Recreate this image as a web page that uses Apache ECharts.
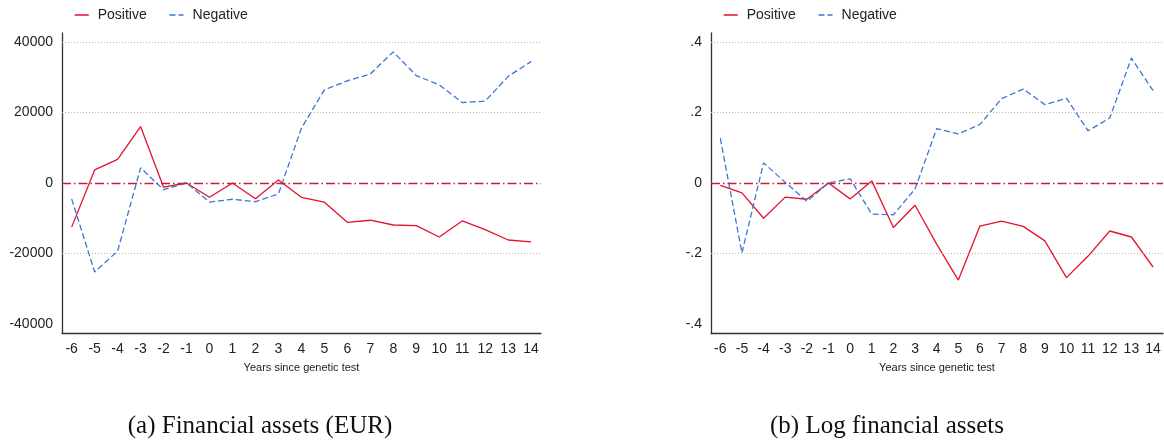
<!DOCTYPE html>
<html>
<head>
<meta charset="utf-8">
<script src="https://cdn.jsdelivr.net/npm/echarts@6/dist/echarts.min.js"></script>
<style>
html,body{margin:0;padding:0;background:#fff;}
#c{width:1164px;height:441px;}
</style>
</head>
<body>
<div id="c"></div>
<script>
// ---- data ----
var years = [-6,-5,-4,-3,-2,-1,0,1,2,3,4,5,6,7,8,9,10,11,12,13,14];
var finPos = [-12500,3700,6700,16000,-1200,0,-4050,0,-4450,850,-4050,-5450,-11150,-10550,-11900,-12100,-15300,-10750,-13200,-16150,-16700];
var finNeg = [-4500,-25200,-19300,4300,-1900,0,-5400,-4600,-5300,-3100,15500,26400,28950,30900,37150,30450,27800,22800,23200,30200,34400];
var logPos = [-0.007,-0.028,-0.100,-0.040,-0.046,0,-0.045,0.006,-0.126,-0.063,-0.173,-0.275,-0.122,-0.108,-0.123,-0.164,-0.268,-0.207,-0.136,-0.153,-0.238];
var logNeg = [0.127,-0.198,0.057,0.002,-0.052,0,0.012,-0.088,-0.090,-0.017,0.154,0.139,0.166,0.239,0.266,0.222,0.240,0.148,0.184,0.354,0.262];
var finTicks = [-40000,-20000,0,20000,40000];
var finTickLabels = ['-40000','-20000','0','20000','40000'];
var logTicks = [-0.4,-0.2,0,0.2,0.4];
var logTickLabels = ['-.4','-.2','0','.2','.4'];
var finGrid = [-20000,20000,40000];
var logGrid = [-0.2,0.2,0.4];
var seriesNames = ['Positive','Negative'];
var xName = 'Years since genetic test';
var captions = ['(a) Financial assets (EUR)','(b) Log financial assets'];

// ---- style ----
var RED = '#e3122d', BLUE = '#3a76d4', ZERO = '#c0203a', AXIS = '#333';
var FONT = 'Liberation Sans';

function pairs(xs, ys){ return xs.map(function(x,i){ return [x, ys[i]]; }); }
function labelFor(ticks, labels){
  return function(v){
    for (var i=0;i<ticks.length;i++){ if (Math.abs(ticks[i]-v) < 1e-6) return labels[i]; }
    return '';
  };
}

var chart = echarts.init(document.getElementById('c'), null, {renderer:'canvas'});

function xAxisCfg(gi, mn, mx){
  return {
    type:'value', gridIndex:gi, min:mn, max:mx,
    name:xName, nameLocation:'middle', nameGap:29,
    nameTextStyle:{fontFamily:FONT, fontSize:11, color:'#222'},
    axisLine:{show:true, onZero:false, lineStyle:{color:AXIS, width:1.3}},
    axisTick:{show:false},
    splitLine:{show:false},
    axisLabel:{customValues:years, fontFamily:FONT, fontSize:14, color:'#222', margin:9,
      formatter:function(v){ return String(Math.round(v)); }}
  };
}
function yAxisCfg(gi, mn, mx, ticks, labels){
  return {
    type:'value', gridIndex:gi, min:mn, max:mx,
    axisLine:{show:true, onZero:false, lineStyle:{color:AXIS, width:1.3}},
    axisTick:{show:false},
    splitLine:{show:false},
    axisLabel:{customValues:ticks, fontFamily:FONT, fontSize:14, color:'#222', margin:9,
      formatter:labelFor(ticks, labels)}
  };
}
function refSeries(gi, gridVals){
  var d = gridVals.map(function(v){ return {yAxis:v, lineStyle:{color:'#b5b5b5', width:1, type:[1,2]}}; });
  d.push({yAxis:0, lineStyle:{color:ZERO, width:1.3, type:[9,3,1.5,3]}});
  return {
    type:'line', xAxisIndex:gi, yAxisIndex:gi, data:[], silent:true, z:1,
    markLine:{silent:true, symbol:['none','none'], label:{show:false}, animation:false, data:d}
  };
}
function lineSeries(gi, name, data, color, dashed){
  return {
    type:'line', name:name, xAxisIndex:gi, yAxisIndex:gi, data:data,
    showSymbol:false, symbol:'none', z:3, animation:false,
    lineStyle:{color:color, width:1.3, type: dashed ? [6,3] : 'solid'},
    itemStyle:{color:color}
  };
}
function legendCfg(left){
  return {
    show:true, left:left, top:8, padding:0, itemWidth:14, itemHeight:14, itemGap:22,
    textStyle:{fontFamily:FONT, fontSize:14, color:'#222', padding:[0,0,0,4]},
    itemStyle:{opacity:0, borderWidth:0},
    lineStyle:{width:1.5},
    data:seriesNames.slice(),
    selectedMode:false
  };
}

var option = {
  backgroundColor:'#fff',
  animation:false,
  legend:[legendCfg(74), legendCfg(723)],
  grid:[
    {left:62, top:33, width:479, height:300},
    {left:711, top:33, width:452, height:300}
  ],
  xAxis:[xAxisCfg(0, -6.42, 14.43), xAxisCfg(1, -6.43, 14.46)],
  yAxis:[yAxisCfg(0, -42500, 42500, finTicks, finTickLabels), yAxisCfg(1, -0.425, 0.425, logTicks, logTickLabels)],
  series:[
    refSeries(0, finGrid),
    refSeries(1, logGrid),
    lineSeries(0, seriesNames[0], pairs(years, finPos), RED, false),
    lineSeries(0, seriesNames[1], pairs(years, finNeg), BLUE, true),
    lineSeries(1, seriesNames[0], pairs(years, logPos), RED, false),
    lineSeries(1, seriesNames[1], pairs(years, logNeg), BLUE, true)
  ],
  graphic:[
    {type:'text', style:{text:captions[0], x:260, y:426, align:'center', verticalAlign:'middle',
      font:'25px "Liberation Serif"', fill:'#111'}},
    {type:'text', style:{text:captions[1], x:887, y:426, align:'center', verticalAlign:'middle',
      font:'25px "Liberation Serif"', fill:'#111'}}
  ]
};
chart.setOption(option);
</script>
</body>
</html>
